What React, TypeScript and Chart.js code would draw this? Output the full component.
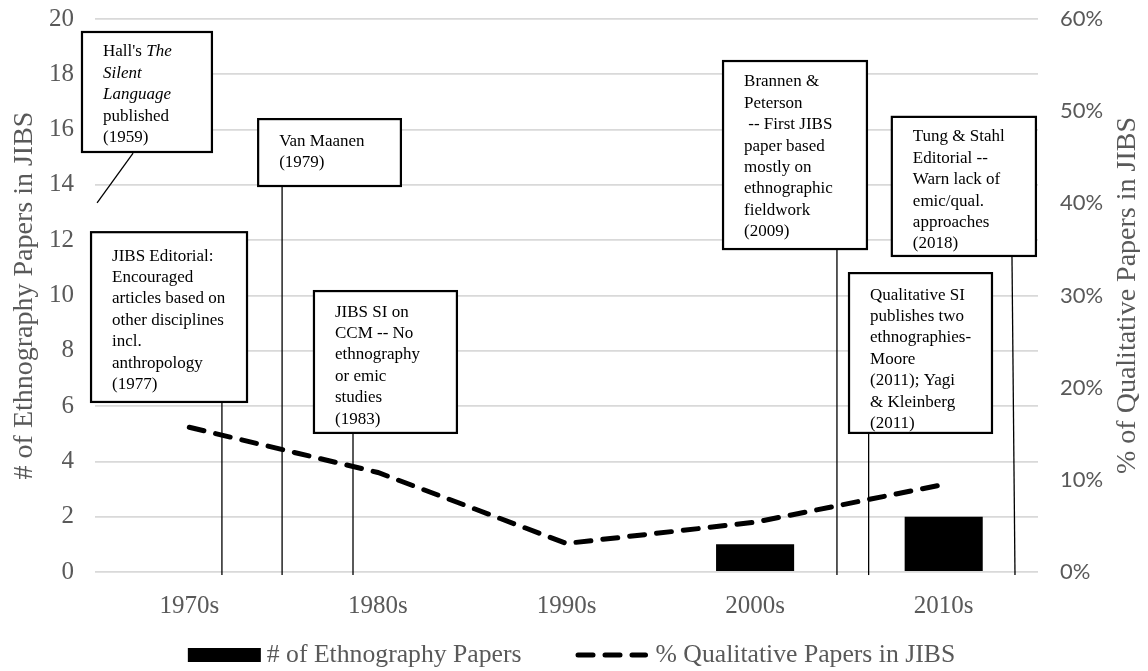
import React, { useEffect, useRef } from 'react';
import { Chart, registerables } from 'chart.js';

Chart.register(...registerables);

// ---------- data ----------
const categories = ['1970s', '1980s', '1990s', '2000s', '2010s'];
const ethnographyPapers = [0, 0, 0, 1, 2];
const qualitativePct = [15.7, 10.8, 3.1, 5.4, 9.5];

const leftAxisMin = 0;
const leftAxisMax = 20;
const leftAxisStep = 2;
const rightAxisMin = 0;
const rightAxisMax = 60;
const rightAxisStep = 10;

const barLabel = '# of Ethnography Papers';
const lineLabel = '% Qualitative Papers in JIBS';
const leftTitle = '# of Ethnography Papers in JIBS';
const rightTitle = '% of Qualitative Papers in JIBS';

// annotation texts (each line is a list of runs; i = italic)
type Run = { t: string; i?: boolean };
const hallText: Run[][] = [
  [{ t: "Hall's " }, { t: 'The', i: true }],
  [{ t: 'Silent', i: true }],
  [{ t: 'Language', i: true }],
  [{ t: 'published' }],
  [{ t: '(1959)' }],
];
const vanMaanenText = ['Van Maanen', '(1979)'];
const editorialText = ['JIBS Editorial:', 'Encouraged', 'articles based on', 'other disciplines', 'incl.', 'anthropology', '(1977)'];
const ccmText = ['JIBS SI on', 'CCM -- No', 'ethnography', 'or emic', 'studies', '(1983)'];
const brannenText = ['Brannen &', 'Peterson', ' -- First JIBS', 'paper based', 'mostly on', 'ethnographic', 'fieldwork', '(2009)'];
const tungText = ['Tung & Stahl', 'Editorial --', 'Warn lack of', 'emic/qual.', 'approaches', '(2018)'];
const qualText = ['Qualitative SI', 'publishes two', 'ethnographies-', 'Moore', '(2011); Yagi', '& Kleinberg', '(2011)'];

const plain = (lines: string[]): Run[][] => lines.map((t) => [{ t }]);

// annotation layout, in axis units (x: category index, y: left-axis value)
const annotations = [
  { lines: hallText, x0: -0.569, x1: 0.12, top: 19.53, bottom: 15.19, lx0: -0.298, ly0: 15.15, lx1: -0.489, ly1: 13.35, off: 20 },
  { lines: plain(vanMaanenText), x0: 0.365, x1: 1.122, top: 16.38, bottom: 13.96, lx0: 0.492, ly0: 13.96, lx1: 0.492, ly1: -0.11, off: 22 },
  { lines: plain(editorialText), x0: -0.521, x1: 0.306, top: 12.29, bottom: 6.15, lx0: 0.173, ly0: 6.15, lx1: 0.173, ly1: -0.11, off: 24 },
  { lines: plain(ccmText), x0: 0.661, x1: 1.419, top: 10.16, bottom: 5.03, lx0: 0.868, ly0: 5.03, lx1: 0.868, ly1: -0.11, off: 21 },
  { lines: plain(brannenText), x0: 2.83, x1: 3.593, top: 18.48, bottom: 11.68, lx0: 3.434, ly0: 11.68, lx1: 3.434, ly1: -0.11, off: 21 },
  { lines: plain(tungText), x0: 3.725, x1: 4.489, top: 16.46, bottom: 11.43, lx0: 4.362, ly0: 11.43, lx1: 4.378, ly1: -0.11, off: 20 },
  { lines: plain(qualText), x0: 3.498, x1: 4.256, top: 10.81, bottom: 5.03, lx0: 3.602, ly0: 5.03, lx1: 3.602, ly1: -0.11, off: 22 },
];

const SERIF = '"Liberation Serif", "Times New Roman", serif';
const GRAY = '#595959';
const DASH = [15, 12];

const annotationPlugin = {
  id: 'timelineAnnotations',
  afterDatasetsDraw(chart: any) {
    const { ctx } = chart;
    const xs = chart.scales.x;
    const ys = chart.scales.y;
    ctx.save();
    for (const a of annotations) {
      const x0 = xs.getPixelForValue(a.x0);
      const x1 = xs.getPixelForValue(a.x1);
      const yt = ys.getPixelForValue(a.top);
      const yb = ys.getPixelForValue(a.bottom);
      // leader
      ctx.beginPath();
      ctx.moveTo(xs.getPixelForValue(a.lx0), ys.getPixelForValue(a.ly0));
      ctx.lineTo(xs.getPixelForValue(a.lx1), ys.getPixelForValue(a.ly1));
      ctx.lineWidth = 1.3;
      ctx.strokeStyle = '#000';
      ctx.setLineDash([]);
      ctx.stroke();
      // box
      ctx.fillStyle = '#fff';
      ctx.fillRect(x0, yt, x1 - x0, yb - yt);
      ctx.lineWidth = 2.2;
      ctx.strokeRect(x0, yt, x1 - x0, yb - yt);
      // text
      ctx.fillStyle = '#000';
      ctx.textBaseline = 'middle';
      ctx.textAlign = 'left';
      a.lines.forEach((runs: Run[], li: number) => {
        let tx = x0 + 21;
        const ty = yt + a.off + li * 21.4;
        for (const r of runs) {
          ctx.font = `${r.i ? 'italic ' : ''}17px ${SERIF}`;
          ctx.fillText(r.t, tx, ty);
          tx += ctx.measureText(r.t).width;
        }
      });
    }
    ctx.restore();
  },
};

const extrasPlugin = {
  id: 'extras',
  afterDraw(chart: any) {
    const { ctx, chartArea } = chart;
    ctx.save();
    // right axis title (reads bottom to top)
    ctx.font = `28px ${SERIF}`;
    ctx.fillStyle = GRAY;
    ctx.textAlign = 'center';
    ctx.textBaseline = 'middle';
    ctx.translate(1120, (chartArea.top + chartArea.bottom) / 2);
    ctx.rotate(-Math.PI / 2);
    ctx.fillText(rightTitle, 0, 0);
    ctx.restore();

    // legend
    ctx.save();
    ctx.font = `25.7px ${SERIF}`;
    const w1 = ctx.measureText(barLabel).width;
    const w2 = ctx.measureText(lineLabel).width;
    const boxW = 73, gap1 = 6, itemGap = 54, lineW = 70, gap2 = 10;
    const total = boxW + gap1 + w1 + itemGap + lineW + gap2 + w2;
    let lx = (chartArea.left + chartArea.right) / 2 - total / 2 + 5;
    const cy = 647;
    ctx.fillStyle = '#000';
    ctx.fillRect(lx, cy - 7, boxW, 14);
    lx += boxW + gap1;
    ctx.fillStyle = GRAY;
    ctx.textBaseline = 'middle';
    ctx.textAlign = 'left';
    ctx.fillText(barLabel, lx, cy);
    lx += w1 + itemGap;
    ctx.beginPath();
    ctx.setLineDash(DASH);
    ctx.lineCap = 'round';
    ctx.lineWidth = 5;
    ctx.strokeStyle = '#000';
    ctx.moveTo(lx + 2.5, cy);
    ctx.lineTo(lx + lineW, cy);
    ctx.stroke();
    ctx.setLineDash([]);
    lx += lineW + gap2;
    ctx.fillText(lineLabel, lx, cy);
    ctx.restore();
  },
};

export default function App() {
  const ref = useRef<HTMLCanvasElement | null>(null);

  useEffect(() => {
    if (!ref.current) return;
    const chart = new Chart(ref.current, {
      type: 'bar',
      data: {
        labels: categories,
        datasets: [
          {
            type: 'line',
            label: lineLabel,
            data: qualitativePct,
            yAxisID: 'y1',
            borderColor: '#000',
            backgroundColor: '#000',
            borderWidth: 5,
            borderDash: DASH,
            borderCapStyle: 'round',
            pointRadius: 0,
            tension: 0,
            fill: false,
            order: 0,
            clip: false,
          } as any,
          {
            type: 'bar',
            label: barLabel,
            data: ethnographyPapers,
            yAxisID: 'y',
            backgroundColor: '#000',
            borderWidth: 0,
            barPercentage: 0.414,
            categoryPercentage: 1,
            order: 1,
          },
        ],
      },
      plugins: [annotationPlugin, extrasPlugin],
      options: {
        responsive: true,
        maintainAspectRatio: false,
        animation: false,
        layout: { padding: { top: 11, left: 0, right: 0, bottom: 0 } },
        plugins: {
          legend: { display: false },
          tooltip: { enabled: false },
        },
        scales: {
          x: {
            grid: { display: false, drawTicks: false },
            border: { display: false },
            ticks: {
              color: GRAY,
              font: { family: SERIF, size: 25, lineHeight: 1.2 },
              padding: 19,
            },
            afterFit: (s: any) => {
              s.height = 99;
              s.paddingLeft = 0;
              s.paddingRight = 0;
            },
          },
          y: {
            position: 'left',
            min: leftAxisMin,
            max: leftAxisMax,
            grid: { color: '#d9d9d9', lineWidth: 1.8, drawTicks: false },
            border: { display: false },
            ticks: {
              stepSize: leftAxisStep,
              color: GRAY,
              font: { family: SERIF, size: 25, lineHeight: 0.8 },
              padding: 21,
            },
            title: {
              display: true,
              text: leftTitle,
              color: GRAY,
              font: { family: SERIF, size: 28, lineHeight: 1.2 },
              padding: 0,
            },
            afterFit: (s: any) => {
              s.width = 87;
              s.paddingTop = 0;
              s.paddingBottom = 0;
            },
          },
          y1: {
            position: 'right',
            min: rightAxisMin,
            max: rightAxisMax,
            grid: { display: false, drawTicks: false },
            border: { display: false },
            ticks: {
              stepSize: rightAxisStep,
              color: GRAY,
              font: { family: 'Lato, "Liberation Sans", sans-serif', size: 22, lineHeight: 0.8 },
              padding: 22,
              callback: (v: any) => `${v}%`,
            },
            afterFit: (s: any) => {
              s.width = 102;
              s.paddingTop = 0;
              s.paddingBottom = 0;
            },
          },
        },
      },
    });
    return () => chart.destroy();
  }, []);

  return (
    <div style={{ position: 'relative', width: 1132, height: 663 }}>
      <canvas ref={ref} />
    </div>
  );
}
